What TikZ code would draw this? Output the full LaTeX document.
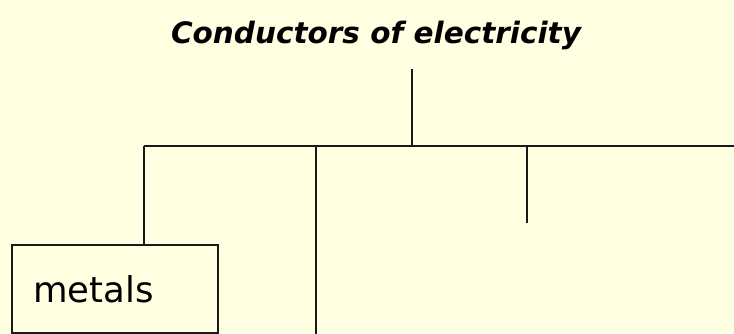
\documentclass[tikz,border=0pt]{standalone}
\usepackage{fontspec}
\setmainfont{DejaVu Sans}
\definecolor{bgyellow}{HTML}{FFFFE1}
\begin{document}
\begin{tikzpicture}[x=1pt,y=-1pt,
  ln/.style={line width=2pt,draw=black!90},
  boxst/.style={draw=black!90,line width=2pt,rectangle,minimum width=206pt,minimum height=88pt,inner sep=0pt,anchor=north west},
  titlest/.style={font=\bfseries\itshape\fontsize{29.5}{34}\selectfont,inner sep=0pt,anchor=base}]
\fill[bgyellow] (0,0) rectangle (734,333);
\useasboundingbox (0,0) rectangle (734,333);
\node[titlest] (title) at (376,43) {Conductors of electricity};
\coordinate (top) at (412,69);
\coordinate (hj) at (412,146);
\coordinate (hl) at (144,146);
\coordinate (hr) at (734,146);
\coordinate (b2) at (316,146);
\coordinate (b2e) at (316,334);
\coordinate (b3) at (527,146);
\coordinate (b3e) at (527,223);
\node[boxst] (metals) at (11,244) {};
\node[font=\fontsize{35.5}{40}\selectfont,anchor=base west,inner sep=0pt] (mtext) at (33,302) {metals};
\draw[ln] (top) -- (hj);
\draw[ln] (hl) -- (hr);
\draw[ln] (hl) -- (metals.north -| hl);
\draw[ln] (b2) -- (b2e);
\draw[ln] (b3) -- (b3e);
\end{tikzpicture}
\end{document}
